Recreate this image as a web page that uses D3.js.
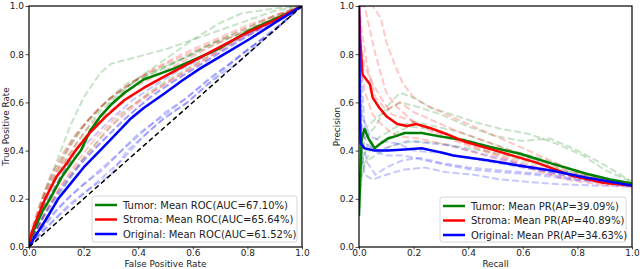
<!DOCTYPE html>
<html lang="en">
<head>
<meta charset="UTF-8">
<title>ROC and PR curves</title>
<script src="https://d3js.org/d3.v7.min.js"></script>
<style>
    body { margin: 0; background: #fff; }
    svg { font-family: 'DejaVu Sans', sans-serif; }
    .tick text { font-size: 9px; fill: #222; }
    .axis-title { font-size: 8.8px; fill: #222; text-anchor: middle; }
    .legend text { font-size: 10px; fill: #222; }
</style>
</head>
<body>
<svg id="chart" width="640" height="269"></svg>
<script>
// ---------- data ----------
const seriesNames = ["Tumor", "Stroma", "Original"];
const seriesColors = ["green", "red", "blue"];
const rocLabels = ["Tumor: Mean ROC(AUC=67.10%)", "Stroma: Mean ROC(AUC=65.64%)", "Original: Mean ROC(AUC=61.52%)"];
const prLabels = ["Tumor: Mean PR(AP=39.09%)", "Stroma: Mean PR(AP=40.89%)", "Original: Mean PR(AP=34.63%)"];
const tickValues = [0, 0.2, 0.4, 0.6, 0.8, 1.0];

// mean ROC curves [fpr, tpr]
const tumorRoc = [[0,0],[0.01,0.05],[0.03,0.1],[0.05,0.15],[0.077,0.2],[0.12,0.29],[0.17,0.37],[0.19,0.4],[0.223,0.48],[0.26,0.54],[0.3,0.59],[0.35,0.64],[0.42,0.695],[0.47,0.715],[0.53,0.74],[0.58,0.765],[0.69,0.82],[0.75,0.86],[0.81,0.9],[0.9,0.945],[0.95,0.97],[1,1]];
const stromaRoc = [[0,0],[0.01,0.06],[0.03,0.12],[0.059,0.2],[0.1,0.29],[0.14,0.35],[0.17,0.4],[0.22,0.47],[0.28,0.54],[0.35,0.61],[0.42,0.66],[0.5,0.71],[0.6,0.77],[0.7,0.83],[0.8,0.89],[0.9,0.94],[1,1]];
const originalRoc = [[0,0],[0.02,0.04],[0.06,0.11],[0.107,0.2],[0.15,0.26],[0.2,0.33],[0.26,0.4],[0.32,0.47],[0.37,0.53],[0.42,0.577],[0.5,0.64],[0.56,0.69],[0.626,0.74],[0.7,0.79],[0.81,0.864],[0.9,0.93],[1,1]];

// per-fold ROC curves
const tumorRocFolds = [
  [[0,0],[0.02,0.08],[0.05,0.2],[0.1,0.35],[0.15,0.5],[0.2,0.62],[0.26,0.72],[0.3,0.76],[0.4,0.79],[0.5,0.82],[0.6,0.86],[0.7,0.9],[0.8,0.94],[0.9,0.98],[1,1]],
  [[0,0],[0.03,0.1],[0.07,0.22],[0.12,0.33],[0.18,0.44],[0.25,0.55],[0.32,0.63],[0.4,0.7],[0.5,0.75],[0.6,0.8],[0.7,0.85],[0.8,0.9],[0.9,0.95],[1,1]],
  [[0,0],[0.04,0.08],[0.08,0.16],[0.14,0.27],[0.2,0.37],[0.28,0.48],[0.36,0.57],[0.45,0.65],[0.55,0.72],[0.65,0.79],[0.75,0.86],[0.85,0.92],[1,1]],
  [[0,0],[0.01,0.06],[0.04,0.15],[0.09,0.28],[0.14,0.4],[0.2,0.5],[0.28,0.6],[0.36,0.68],[0.46,0.72],[0.56,0.78],[0.66,0.84],[0.76,0.88],[0.86,0.93],[1,1]],
  [[0,0],[0.05,0.15],[0.12,0.3],[0.2,0.45],[0.3,0.6],[0.4,0.7],[0.5,0.78],[0.6,0.86],[0.7,0.93],[0.78,0.97],[0.9,0.99],[1,1]],
  [[0,0],[0.02,0.1],[0.06,0.24],[0.1,0.33],[0.16,0.45],[0.22,0.53],[0.3,0.62],[0.38,0.68],[0.48,0.74],[0.58,0.79],[0.68,0.85],[0.78,0.9],[0.9,0.96],[1,1]],
  [[0,0],[0.02,0.05],[0.06,0.16],[0.11,0.28],[0.17,0.4],[0.24,0.5],[0.32,0.58],[0.42,0.66],[0.52,0.72],[0.62,0.78],[0.72,0.84],[0.84,0.91],[1,1]]
];
const stromaRocFolds = [
  [[0,0],[0.01,0.08],[0.04,0.18],[0.08,0.3],[0.13,0.4],[0.18,0.48],[0.25,0.57],[0.32,0.64],[0.4,0.7],[0.5,0.76],[0.6,0.81],[0.7,0.86],[0.8,0.91],[0.9,0.96],[1,1]],
  [[0,0],[0.03,0.07],[0.07,0.17],[0.12,0.26],[0.18,0.36],[0.25,0.46],[0.33,0.55],[0.42,0.62],[0.52,0.69],[0.62,0.76],[0.72,0.83],[0.82,0.89],[0.92,0.95],[1,1]],
  [[0,0],[0.02,0.1],[0.05,0.2],[0.1,0.31],[0.16,0.41],[0.22,0.5],[0.3,0.59],[0.38,0.66],[0.48,0.72],[0.58,0.78],[0.68,0.84],[0.78,0.89],[0.88,0.94],[1,1]],
  [[0,0],[0.02,0.05],[0.06,0.14],[0.11,0.24],[0.17,0.33],[0.24,0.42],[0.3,0.5],[0.38,0.58],[0.46,0.65],[0.56,0.72],[0.66,0.79],[0.76,0.86],[0.88,0.93],[1,1]],
  [[0,0],[0.01,0.05],[0.04,0.14],[0.09,0.27],[0.15,0.38],[0.21,0.46],[0.28,0.55],[0.36,0.62],[0.45,0.68],[0.55,0.74],[0.65,0.8],[0.75,0.86],[0.86,0.92],[1,1]],
  [[0,0],[0.02,0.09],[0.06,0.22],[0.1,0.32],[0.15,0.42],[0.21,0.52],[0.28,0.6],[0.36,0.67],[0.46,0.74],[0.56,0.8],[0.68,0.86],[0.8,0.92],[1,1]]
];
const originalRocFolds = [
  [[0,0],[0.03,0.05],[0.08,0.13],[0.14,0.2],[0.2,0.26],[0.27,0.32],[0.34,0.4],[0.42,0.48],[0.5,0.56],[0.58,0.62],[0.66,0.7],[0.76,0.78],[0.86,0.87],[1,1]],
  [[0,0],[0.02,0.06],[0.06,0.14],[0.12,0.24],[0.18,0.33],[0.25,0.42],[0.32,0.5],[0.4,0.58],[0.48,0.65],[0.56,0.71],[0.66,0.78],[0.76,0.85],[0.88,0.93],[1,1]],
  [[0,0],[0.03,0.04],[0.08,0.1],[0.15,0.18],[0.22,0.24],[0.3,0.3],[0.36,0.4],[0.4,0.44],[0.48,0.52],[0.58,0.6],[0.68,0.7],[0.78,0.8],[0.9,0.9],[1,1]],
  [[0,0],[0.02,0.07],[0.05,0.16],[0.1,0.26],[0.15,0.35],[0.22,0.44],[0.3,0.53],[0.38,0.61],[0.46,0.67],[0.56,0.74],[0.66,0.8],[0.78,0.87],[0.9,0.94],[1,1]],
  [[0,0],[0.04,0.06],[0.1,0.15],[0.16,0.22],[0.24,0.3],[0.32,0.38],[0.4,0.47],[0.5,0.55],[0.6,0.64],[0.7,0.73],[0.8,0.82],[0.9,0.9],[1,1]],
  [[0,0],[0.03,0.08],[0.08,0.18],[0.14,0.28],[0.2,0.36],[0.28,0.45],[0.36,0.54],[0.44,0.62],[0.52,0.68],[0.62,0.75],[0.72,0.82],[0.84,0.9],[1,1]],
  [[0,0],[0.04,0.05],[0.1,0.12],[0.18,0.2],[0.26,0.28],[0.34,0.36],[0.42,0.46],[0.5,0.54],[0.58,0.6],[0.66,0.68],[0.76,0.76],[0.88,0.88],[1,1]]
];

// mean PR curves [recall, precision]
const tumorPr = [[0,0.13],[0.005,0.3],[0.01,0.45],[0.02,0.49],[0.035,0.45],[0.057,0.41],[0.08,0.43],[0.106,0.45],[0.135,0.46],[0.167,0.473],[0.23,0.473],[0.29,0.46],[0.38,0.444],[0.48,0.415],[0.59,0.387],[0.71,0.345],[0.83,0.305],[0.92,0.28],[1,0.263]];
const stromaPr = [[0,1],[0.005,0.85],[0.013,0.716],[0.04,0.675],[0.05,0.62],[0.075,0.577],[0.1,0.543],[0.14,0.51],[0.175,0.502],[0.21,0.51],[0.26,0.494],[0.32,0.469],[0.38,0.44],[0.5,0.4],[0.65,0.35],[0.78,0.296],[0.89,0.267],[1,0.255]];
const originalPr = [[0,1],[0.003,0.6],[0.006,0.43],[0.02,0.41],[0.057,0.4],[0.106,0.4],[0.167,0.405],[0.23,0.41],[0.27,0.4],[0.31,0.39],[0.345,0.38],[0.47,0.36],[0.59,0.337],[0.71,0.316],[0.83,0.288],[1,0.255]];

// per-fold PR curves
const tumorPrFolds = [
  [[0,0.2],[0.02,0.45],[0.06,0.5],[0.1,0.58],[0.15,0.64],[0.2,0.62],[0.26,0.58],[0.34,0.55],[0.42,0.52],[0.52,0.49],[0.62,0.47],[0.72,0.43],[0.82,0.38],[0.9,0.32],[1,0.27]],
  [[0,0.3],[0.03,0.42],[0.08,0.46],[0.14,0.5],[0.2,0.52],[0.28,0.5],[0.36,0.48],[0.46,0.44],[0.56,0.4],[0.66,0.37],[0.76,0.33],[0.88,0.29],[1,0.265]],
  [[0,0.25],[0.02,0.35],[0.06,0.38],[0.12,0.42],[0.2,0.44],[0.3,0.43],[0.4,0.41],[0.5,0.39],[0.6,0.36],[0.7,0.33],[0.8,0.3],[0.9,0.28],[1,0.26]],
  [[0,0.4],[0.03,0.5],[0.08,0.55],[0.15,0.6],[0.22,0.58],[0.3,0.55],[0.4,0.5],[0.5,0.46],[0.6,0.44],[0.7,0.45],[0.8,0.4],[0.9,0.34],[1,0.27]],
  [[0,0.15],[0.01,0.3],[0.04,0.4],[0.1,0.45],[0.18,0.5],[0.26,0.49],[0.34,0.46],[0.44,0.43],[0.54,0.4],[0.64,0.36],[0.74,0.32],[0.86,0.29],[1,0.26]]
];
const stromaPrFolds = [
  [[0,1],[0.02,1],[0.04,0.9],[0.06,0.8],[0.08,0.72],[0.1,0.64],[0.14,0.58],[0.2,0.52],[0.28,0.47],[0.38,0.43],[0.5,0.38],[0.62,0.33],[0.76,0.29],[0.9,0.27],[1,0.25]],
  [[0,1],[0.05,1],[0.08,0.95],[0.1,0.85],[0.13,0.76],[0.16,0.68],[0.2,0.62],[0.26,0.58],[0.34,0.54],[0.44,0.49],[0.56,0.43],[0.68,0.37],[0.8,0.31],[0.9,0.28],[1,0.255]],
  [[0,0.8],[0.02,0.65],[0.05,0.55],[0.09,0.5],[0.14,0.46],[0.22,0.45],[0.3,0.43],[0.4,0.4],[0.52,0.36],[0.64,0.32],[0.76,0.28],[0.88,0.26],[1,0.25]],
  [[0,1],[0.01,0.9],[0.03,0.75],[0.06,0.62],[0.1,0.57],[0.15,0.6],[0.2,0.56],[0.28,0.52],[0.36,0.48],[0.46,0.44],[0.58,0.39],[0.7,0.34],[0.84,0.29],[1,0.26]],
  [[0,0.9],[0.02,0.75],[0.05,0.68],[0.08,0.62],[0.12,0.55],[0.18,0.53],[0.24,0.5],[0.32,0.46],[0.42,0.42],[0.54,0.37],[0.66,0.33],[0.8,0.29],[1,0.255]]
];
const originalPrFolds = [
  [[0,0.6],[0.01,0.45],[0.03,0.35],[0.06,0.3],[0.1,0.33],[0.16,0.36],[0.22,0.37],[0.3,0.35],[0.4,0.33],[0.5,0.32],[0.6,0.31],[0.7,0.3],[0.8,0.28],[0.9,0.27],[1,0.255]],
  [[0,0.8],[0.01,0.5],[0.03,0.42],[0.07,0.4],[0.12,0.42],[0.18,0.44],[0.26,0.43],[0.34,0.42],[0.44,0.39],[0.54,0.36],[0.64,0.33],[0.74,0.3],[0.86,0.28],[1,0.26]],
  [[0,0.5],[0.02,0.3],[0.05,0.28],[0.1,0.3],[0.16,0.32],[0.24,0.33],[0.32,0.31],[0.42,0.3],[0.52,0.28],[0.62,0.27],[0.74,0.26],[0.86,0.255],[1,0.25]],
  [[0,0.9],[0.01,0.55],[0.04,0.46],[0.08,0.44],[0.14,0.43],[0.2,0.4],[0.3,0.39],[0.4,0.37],[0.5,0.35],[0.6,0.33],[0.7,0.31],[0.82,0.29],[1,0.26]],
  [[0,1],[0.01,0.7],[0.02,0.5],[0.05,0.4],[0.1,0.38],[0.16,0.38],[0.24,0.36],[0.32,0.34],[0.42,0.32],[0.52,0.31],[0.64,0.3],[0.78,0.28],[1,0.255]]
];

// ---------- drawing ----------
const svg = d3.select("#chart");

function drawPanel(opts) {
    const { left, right, top, bottom, means, folds, labels, xTitle, yTitle, yTitleX, diagonal, legendBox } = opts;
    const x = d3.scaleLinear().domain([0, 1]).range([left, right]);
    const y = d3.scaleLinear().domain([0, 1]).range([bottom, top]);
    const id = "clip" + left;

    svg.append("clipPath").attr("id", id)
        .append("rect")
        .attr("x", left).attr("y", top)
        .attr("width", right - left).attr("height", bottom - top);

    const line = d3.line().x(d => x(d[0])).y(d => y(d[1]));
    const plot = svg.append("g").attr("clip-path", `url(#${id})`);

    // faint dashed fold curves
    folds.forEach((set, i) => {
        plot.selectAll(null)
            .data(set)
            .enter()
            .append("path")
            .attr("d", line)
            .attr("fill", "none")
            .attr("stroke", seriesColors[i])
            .attr("stroke-opacity", 0.22)
            .attr("stroke-width", 2)
            .attr("stroke-dasharray", "7,3");
    });

    // mean curves
    means.forEach((m, i) => {
        plot.append("path")
            .attr("d", line(m))
            .attr("fill", "none")
            .attr("stroke", seriesColors[i])
            .attr("stroke-width", 2.5)
            .attr("stroke-linejoin", "round");
    });

    if (diagonal) {
        plot.append("path")
            .attr("d", line([[0, 0], [1, 1]]))
            .attr("fill", "none")
            .attr("stroke", "black")
            .attr("stroke-width", 1.5)
            .attr("stroke-dasharray", "5,3");
    }

    // axes
    const fmt = d3.format(".1f");
    const gx = svg.append("g")
        .attr("transform", `translate(0,${bottom})`)
        .call(d3.axisBottom(x).tickValues(tickValues).tickFormat(fmt).tickSize(2.5).tickPadding(0.5));
    const gy = svg.append("g")
        .attr("transform", `translate(${left},0)`)
        .call(d3.axisLeft(y).tickValues(tickValues).tickFormat(fmt).tickSize(3.5).tickPadding(1.5));
    [gx, gy].forEach(g => {
        g.select(".domain").remove();
        g.selectAll(".tick line").attr("stroke", "#222").attr("stroke-width", 0.8);
        g.selectAll(".tick text").style("font-family", "'DejaVu Sans', sans-serif");
    });

    // frame
    svg.append("rect")
        .attr("x", left).attr("y", top)
        .attr("width", right - left).attr("height", bottom - top)
        .attr("fill", "none")
        .attr("stroke", "black")
        .attr("stroke-width", 1.2);

    // titles
    svg.append("text").attr("class", "axis-title")
        .attr("x", (left + right) / 2).attr("y", 267)
        .text(xTitle);
    svg.append("text").attr("class", "axis-title")
        .attr("transform", `translate(${yTitleX},${(top + bottom) / 2}) rotate(-90)`)
        .text(yTitle);

    // legend
    const lg = svg.append("g").attr("class", "legend");
    lg.append("rect")
        .attr("x", legendBox.x).attr("y", legendBox.y)
        .attr("width", legendBox.w).attr("height", legendBox.h)
        .attr("rx", 2.5)
        .attr("fill", "white").attr("fill-opacity", 0.8)
        .attr("stroke", "#ccc").attr("stroke-width", 0.8);
    labels.forEach((t, i) => {
        const yy = legendBox.y + 9 + i * 14.5;
        lg.append("line")
            .attr("x1", legendBox.x + 3).attr("x2", legendBox.x + 25)
            .attr("y1", yy).attr("y2", yy)
            .attr("stroke", seriesColors[i]).attr("stroke-width", 2.5);
        lg.append("text")
            .attr("x", legendBox.x + 31).attr("y", yy + 3.6)
            .text(t);
    });
}

drawPanel({
    left: 29, right: 302, top: 6, bottom: 247,
    means: [tumorRoc, stromaRoc, originalRoc],
    folds: [tumorRocFolds, stromaRocFolds, originalRocFolds],
    labels: rocLabels,
    xTitle: "False Positive Rate", yTitle: "True Positive Rate", yTitleX: 9,
    diagonal: true,
    legendBox: { x: 92, y: 196, w: 205, h: 46 }
});

drawPanel({
    left: 359, right: 632, top: 6, bottom: 247,
    means: [tumorPr, stromaPr, originalPr],
    folds: [tumorPrFolds, stromaPrFolds, originalPrFolds],
    labels: prLabels,
    xTitle: "Recall", yTitle: "Precision", yTitleX: 340,
    diagonal: false,
    legendBox: { x: 440, y: 197, w: 186, h: 45 }
});
</script>
</body>
</html>
